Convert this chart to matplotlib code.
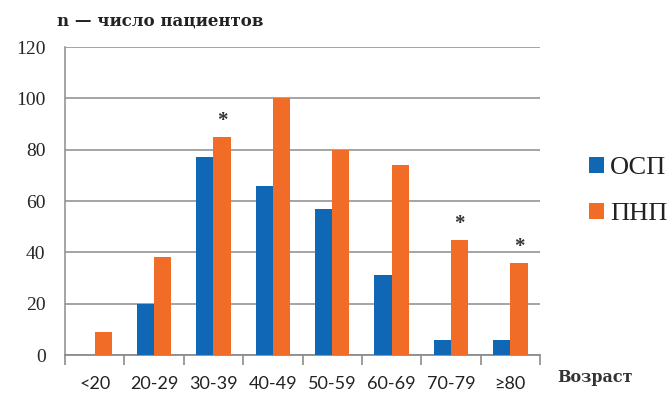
import matplotlib
matplotlib.use("Agg")
import matplotlib.pyplot as plt
import numpy as np

# Age groups and patient counts
age_groups = ["<20", "20-29", "30-39", "40-49", "50-59", "60-69", "70-79", "≥80"]
osp = [0, 20, 77, 66, 57, 31, 6, 6]
pnp = [9, 38, 85, 100, 80, 74, 45, 36]
significant = [False, False, True, False, False, False, True, True]
series_names = ["ОСП", "ПНП"]
y_ticks = [0, 20, 40, 60, 80, 100, 120]

blue = "#0F67B5"
orange = "#F06C27"
grid_c = "#8C8C8C"
serif = "Liberation Serif"

fig = plt.figure(figsize=(6.72, 4.03), dpi=100)
ax = fig.add_axes([65 / 672, 1 - 355 / 403, 475 / 672, 308 / 403])

x = np.arange(len(age_groups))
w = 0.29
ax.bar(x - w / 2, osp, width=w, color=blue, label=series_names[0], zorder=3)
ax.bar(x + w / 2, pnp, width=w, color=orange, label=series_names[1], zorder=3)

for xi, v, s in zip(x, pnp, significant):
    if s:
        ax.annotate("*", (xi + w / 2, v), xytext=(0, 4), textcoords="offset points",
                    ha="center", va="bottom", fontsize=15, fontweight="bold",
                    family=serif, color="#333333")

ax.set_xlim(-0.5, len(age_groups) - 0.5)
ax.set_ylim(0, 120)
ax.set_yticks(y_ticks)
ax.set_yticklabels([str(t) for t in y_ticks], family=serif, fontsize=14, color="#262626")
ax.tick_params(axis="y", length=0, pad=14)

ax.set_xticks(np.arange(len(age_groups) + 1) - 0.5)
ax.set_xticklabels([])
ax.tick_params(axis="x", length=7, width=1.2, color=grid_c, direction="out")
ax.set_xticks(x, minor=True)
ax.set_xticklabels(age_groups, minor=True, family="Lato", fontsize=13, color="#222222")
ax.tick_params(axis="x", which="minor", length=0, pad=15)

ax.grid(axis="y", color=grid_c, linewidth=1.1, zorder=0)
for side in ["top", "right"]:
    ax.spines[side].set_visible(False)
ax.spines["left"].set_color(grid_c)
ax.spines["bottom"].set_color(grid_c)
ax.spines["left"].set_linewidth(1.1)
ax.spines["bottom"].set_linewidth(1.3)

leg = fig.legend(loc="upper left", bbox_to_anchor=(589 / 672, 1 - 157 / 403),
                 frameon=False, prop={"family": serif, "size": 19},
                 handlelength=0.55, handleheight=0.55, handletextpad=0.25,
                 labelspacing=0.9, borderaxespad=0, borderpad=0)
for t in leg.get_texts():
    t.set_color("#222222")

fig.text(557 / 672, 1 - 377 / 403, "Возраст", family="DejaVu Serif", fontsize=11.5,
         fontweight="bold", color="#333333", va="center", ha="left")
fig.text(57 / 672, 1 - 21 / 403, "n — число пациентов", family="DejaVu Serif",
         fontsize=12, fontweight="bold", color="#222222", va="center", ha="left")

fig.savefig("out.png", dpi=100, facecolor="white")
